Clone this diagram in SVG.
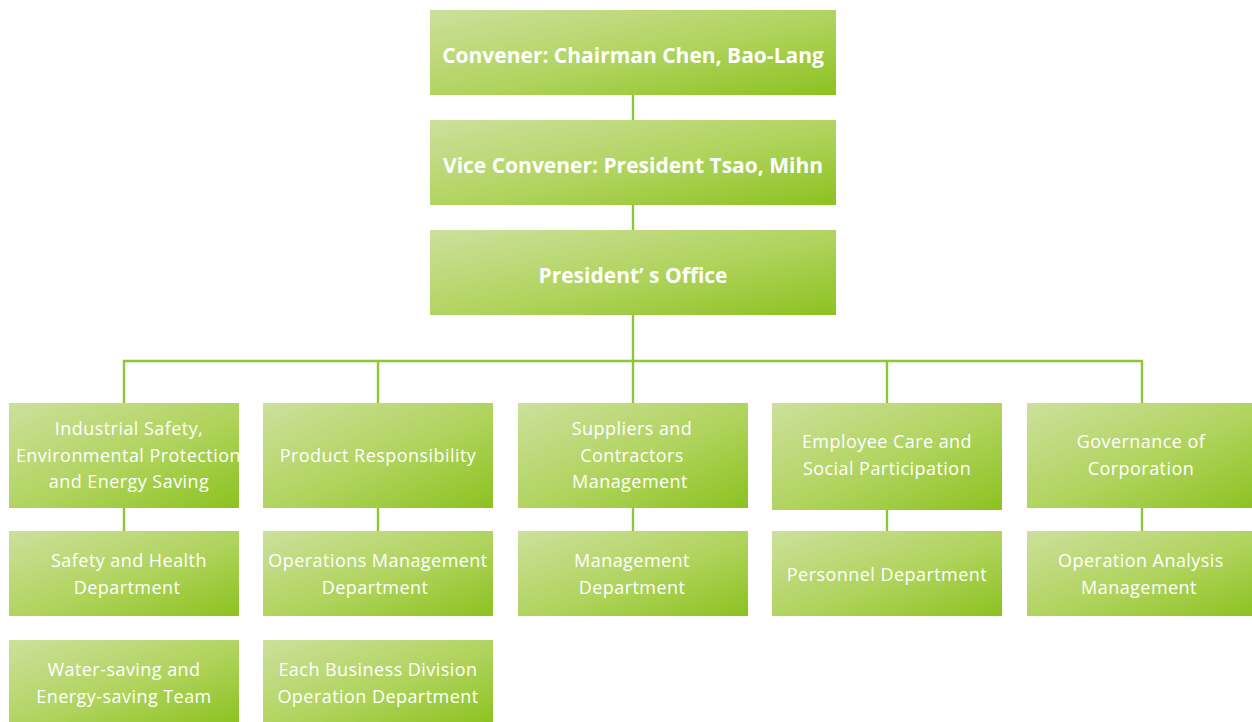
<svg xmlns="http://www.w3.org/2000/svg" width="1252" height="722" viewBox="0 0 1252 722">
  <defs>
    <linearGradient id="boxFill" x1="0" y1="0" x2="1" y2="1">
      <stop offset="0" stop-color="#cde09c"/>
      <stop offset="0.55" stop-color="#afd35c"/>
      <stop offset="1" stop-color="#8cc220"/>
    </linearGradient>
    <style>
      .box { fill: url(#boxFill); }
      .link { stroke: #8cc63a; stroke-width: 2.4; fill: none; }
      .t { font-family: "Open Sans", "Noto Sans", sans-serif; fill: #ffffff; text-anchor: middle; }
      .tb { font-size: 21px; font-weight: bold; }
      .tn { font-size: 18px; letter-spacing: 0.45px; }
    </style>
  </defs>
  <rect width="1252" height="722" fill="#ffffff"/>

  <!-- connectors -->
  <g id="connectors">
    <line class="link" x1="633" y1="95" x2="633" y2="120"/>
    <line class="link" x1="633" y1="205" x2="633" y2="230"/>
    <line class="link" x1="633" y1="315" x2="633" y2="403"/>
    <polyline class="link" points="124,403 124,361 1142,361 1142,403"/>
    <line class="link" x1="378" y1="361" x2="378" y2="403"/>
    <line class="link" x1="887" y1="361" x2="887" y2="403"/>
    <line class="link" x1="124" y1="508" x2="124" y2="531"/>
    <line class="link" x1="378" y1="508" x2="378" y2="531"/>
    <line class="link" x1="633" y1="508" x2="633" y2="531"/>
    <line class="link" x1="887" y1="508" x2="887" y2="531"/>
    <line class="link" x1="1142" y1="508" x2="1142" y2="531"/>
  </g>

  <!-- top chain -->
  <g id="convener">
    <rect class="box" x="430" y="10" width="406" height="85"/>
    <text class="t tb" x="633" y="63">Convener: Chairman Chen, Bao-Lang</text>
  </g>
  <g id="vice-convener">
    <rect class="box" x="430" y="120" width="406" height="85"/>
    <text class="t tb" x="633" y="173">Vice Convener: President Tsao, Mihn</text>
  </g>
  <g id="presidents-office">
    <rect class="box" x="430" y="230" width="406" height="85"/>
    <text class="t tb" x="633" y="283">President’ s Office</text>
  </g>

  <!-- committee row -->
  <g id="industrial-safety">
    <rect class="box" x="9" y="403" width="230" height="105"/>
    <text class="t tn" x="129" y="435">Industrial Safety,</text>
    <text class="t tn" x="131" y="462">Environmental Protection,</text>
    <text class="t tn" x="129" y="488">and Energy Saving</text>
  </g>
  <g id="product-responsibility">
    <rect class="box" x="263" y="403" width="230" height="105"/>
    <text class="t tn" x="378" y="462">Product Responsibility</text>
  </g>
  <g id="suppliers">
    <rect class="box" x="518" y="403" width="230" height="105"/>
    <text class="t tn" x="632" y="435">Suppliers and</text>
    <text class="t tn" x="632" y="462">Contractors</text>
    <text class="t tn" x="630" y="488">Management</text>
  </g>
  <g id="employee-care">
    <rect class="box" x="772" y="403" width="230" height="107"/>
    <text class="t tn" x="887" y="448">Employee Care and</text>
    <text class="t tn" x="887" y="475">Social Participation</text>
  </g>
  <g id="governance">
    <rect class="box" x="1027" y="403" width="230" height="105"/>
    <text class="t tn" x="1141" y="448">Governance of</text>
    <text class="t tn" x="1141" y="475">Corporation</text>
  </g>

  <!-- departments -->
  <g id="safety-health">
    <rect class="box" x="9" y="531" width="230" height="85"/>
    <text class="t tn" x="129" y="567">Safety and Health</text>
    <text class="t tn" x="127" y="594">Department</text>
  </g>
  <g id="operations-management">
    <rect class="box" x="263" y="531" width="230" height="85"/>
    <text class="t tn" x="378" y="567">Operations Management</text>
    <text class="t tn" x="375" y="594">Department</text>
  </g>
  <g id="management-dept">
    <rect class="box" x="518" y="531" width="230" height="85"/>
    <text class="t tn" x="632" y="567">Management</text>
    <text class="t tn" x="632" y="594">Department</text>
  </g>
  <g id="personnel">
    <rect class="box" x="772" y="531" width="230" height="85"/>
    <text class="t tn" x="887" y="581">Personnel Department</text>
  </g>
  <g id="operation-analysis">
    <rect class="box" x="1027" y="531" width="230" height="85"/>
    <text class="t tn" x="1141" y="567">Operation Analysis</text>
    <text class="t tn" x="1139" y="594">Management</text>
  </g>

  <!-- teams -->
  <g id="water-energy-team">
    <rect class="box" x="9" y="640" width="230" height="85"/>
    <text class="t tn" x="124" y="676">Water-saving and</text>
    <text class="t tn" x="124" y="703">Energy-saving Team</text>
  </g>
  <g id="business-division">
    <rect class="box" x="263" y="640" width="230" height="85"/>
    <text class="t tn" x="378" y="676">Each Business Division</text>
    <text class="t tn" x="378" y="703">Operation Department</text>
  </g>
</svg>
